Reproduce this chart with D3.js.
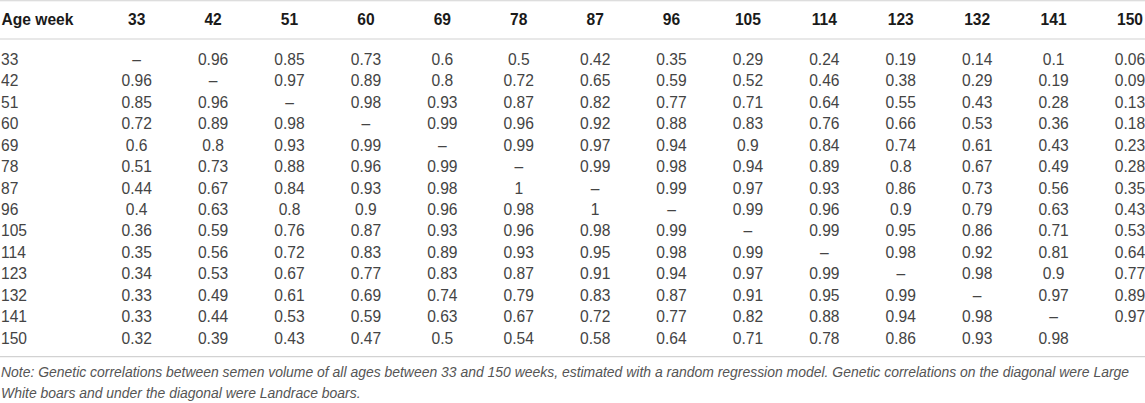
<!DOCTYPE html>
<html><head><meta charset="utf-8">
<script src="https://cdn.jsdelivr.net/npm/d3@7"></script>
<style>
html,body{margin:0;padding:0;background:#fff;}
svg{display:block;}
</style></head>
<body>
<svg id="chart" width="1145" height="403"></svg>
<script>
const headerLabel = "Age week";
const ages = [33, 42, 51, 60, 69, 78, 87, 96, 105, 114, 123, 132, 141, 150];
const DIAG = "–";
const row33  = [DIAG, 0.96, 0.85, 0.73, 0.6, 0.5, 0.42, 0.35, 0.29, 0.24, 0.19, 0.14, 0.1, 0.06];
const row42  = [0.96, DIAG, 0.97, 0.89, 0.8, 0.72, 0.65, 0.59, 0.52, 0.46, 0.38, 0.29, 0.19, 0.09];
const row51  = [0.85, 0.96, DIAG, 0.98, 0.93, 0.87, 0.82, 0.77, 0.71, 0.64, 0.55, 0.43, 0.28, 0.13];
const row60  = [0.72, 0.89, 0.98, DIAG, 0.99, 0.96, 0.92, 0.88, 0.83, 0.76, 0.66, 0.53, 0.36, 0.18];
const row69  = [0.6, 0.8, 0.93, 0.99, DIAG, 0.99, 0.97, 0.94, 0.9, 0.84, 0.74, 0.61, 0.43, 0.23];
const row78  = [0.51, 0.73, 0.88, 0.96, 0.99, DIAG, 0.99, 0.98, 0.94, 0.89, 0.8, 0.67, 0.49, 0.28];
const row87  = [0.44, 0.67, 0.84, 0.93, 0.98, 1, DIAG, 0.99, 0.97, 0.93, 0.86, 0.73, 0.56, 0.35];
const row96  = [0.4, 0.63, 0.8, 0.9, 0.96, 0.98, 1, DIAG, 0.99, 0.96, 0.9, 0.79, 0.63, 0.43];
const row105 = [0.36, 0.59, 0.76, 0.87, 0.93, 0.96, 0.98, 0.99, DIAG, 0.99, 0.95, 0.86, 0.71, 0.53];
const row114 = [0.35, 0.56, 0.72, 0.83, 0.89, 0.93, 0.95, 0.98, 0.99, DIAG, 0.98, 0.92, 0.81, 0.64];
const row123 = [0.34, 0.53, 0.67, 0.77, 0.83, 0.87, 0.91, 0.94, 0.97, 0.99, DIAG, 0.98, 0.9, 0.77];
const row132 = [0.33, 0.49, 0.61, 0.69, 0.74, 0.79, 0.83, 0.87, 0.91, 0.95, 0.99, DIAG, 0.97, 0.89];
const row141 = [0.33, 0.44, 0.53, 0.59, 0.63, 0.67, 0.72, 0.77, 0.82, 0.88, 0.94, 0.98, DIAG, 0.97];
const row150 = [0.32, 0.39, 0.43, 0.47, 0.5, 0.54, 0.58, 0.64, 0.71, 0.78, 0.86, 0.93, 0.98, ""];
const noteLines = [
  "Note: Genetic correlations between semen volume of all ages between 33 and 150 weeks, estimated with a random regression model. Genetic correlations on the diagonal were Large",
  "White boars and under the diagonal were Landrace boars."
];

const rows = [row33, row42, row51, row60, row69, row78, row87, row96, row105, row114, row123, row132, row141, row150];

const svg = d3.select("#chart");
const W = 1145;
const font = "'Liberation Sans', Arial, Helvetica, sans-serif";
const fs = 15.6;

const x = d3.scalePoint().domain(ages).range([136.7, 1130]);
const y = d3.scalePoint().domain(ages).range([59.3, 338.3]);

const lineColor = "#d2d2d2";
const lines = [0.75, 39, 356.7];
svg.selectAll("line.rule").data(lines).enter().append("line")
  .attr("class", "rule")
  .attr("x1", 0).attr("x2", W)
  .attr("y1", d => d).attr("y2", d => d)
  .attr("stroke", lineColor).attr("stroke-width", 1.2);

// header
const headerY = 20;
svg.append("text")
  .attr("x", 1.5).attr("y", headerY).attr("dy", "0.35em")
  .attr("font-family", font).attr("font-weight", "bold").attr("font-size", fs)
  .attr("fill", "#1a1a1a").text(headerLabel);
svg.selectAll("text.colhead").data(ages).enter().append("text")
  .attr("class", "colhead")
  .attr("x", d => x(d)).attr("y", headerY).attr("dy", "0.35em")
  .attr("text-anchor", "middle")
  .attr("font-family", font).attr("font-weight", "bold").attr("font-size", fs)
  .attr("fill", "#1a1a1a").text(d => d);

// row labels
svg.selectAll("text.rowlab").data(ages).enter().append("text")
  .attr("class", "rowlab")
  .attr("x", 1).attr("y", d => y(d)).attr("dy", "0.35em")
  .attr("font-family", font).attr("font-size", fs)
  .attr("fill", "#444").text(d => d);

// cells
const cells = [];
rows.forEach((r, i) => r.forEach((v, j) => cells.push({row: ages[i], col: ages[j], v})));
svg.selectAll("text.cell").data(cells).enter().append("text")
  .attr("class", "cell")
  .attr("x", d => x(d.col)).attr("y", d => y(d.row)).attr("dy", "0.35em")
  .attr("text-anchor", "middle")
  .attr("font-family", font).attr("font-size", fs)
  .attr("fill", "#444").text(d => d.v);

// note
svg.selectAll("text.note").data(noteLines).enter().append("text")
  .attr("class", "note")
  .attr("x", 1).attr("y", (d, i) => 371.7 + i * 21).attr("dy", "0.35em")
  .attr("font-family", font).attr("font-style", "italic").attr("font-size", 13.95)
  .attr("fill", "#555").text(d => d);
</script>
</body></html>
